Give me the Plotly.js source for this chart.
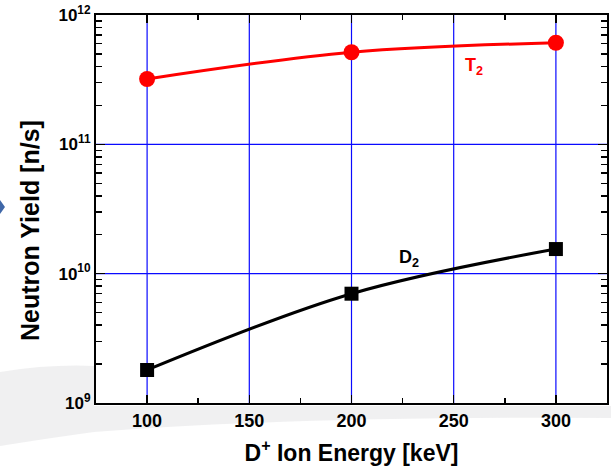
<!DOCTYPE html>
<html><head><meta charset="utf-8">
<script src="https://cdn.plot.ly/plotly-3.0.1.min.js"></script>
<style>html,body{margin:0;padding:0;background:#fff}#c{width:611px;height:472px}</style>
</head><body><div id="c"></div>
<script>
const energies = [100, 200, 300];
const t2Yield = [3.2e11, 5.15e11, 6.1e11];
const d2Yield = [1.8e9, 7.0e9, 1.55e10];
const xTicks = [100, 150, 200, 250, 300];
const xTickText = ['<b>100</b>', '<b>150</b>', '<b>200</b>', '<b>250</b>', '<b>300</b>'];
const yTickVals = [1e9, 1e10, 1e11, 1e12];
const yTickText = ['<b>10<sup>9</sup></b>', '<b>10<sup>10</sup></b>', '<b>10<sup>11</sup></b>', '<b>10<sup>12</sup></b>'];
const yGridVals = [1e10, 1e11];

const minorY = [];
for (let e = 9; e < 12; e++) for (let m = 2; m <= 9; m++) minorY.push(m * Math.pow(10, e));

const fam = 'Liberation Sans, Arial, sans-serif';
const W = 611, H = 472, L = 96, R = 4, T = 15, B = 69;
const pw = W - L - R, ph = H - T - B;
const px = v => ((v - L) / pw).toFixed(4);
const py = v => ((H - B - v) / ph).toFixed(4);

const traces = [
  {x: energies, y: t2Yield, mode: 'lines+markers', line: {color: '#ff0000', width: 3, shape: 'spline'},
   marker: {symbol: 'circle', size: 16, color: '#ff0000'}, cliponaxis: false, showlegend: false},
  {x: energies, y: d2Yield, mode: 'lines+markers', line: {color: '#000', width: 3, shape: 'spline'},
   marker: {symbol: 'square', size: 14, color: '#000'}, cliponaxis: false, showlegend: false}
];

const gridBlue = '#0a0aff';
const gridShapes = [];
xTicks.forEach(v => gridShapes.push({type: 'line', xref: 'x', yref: 'paper', x0: v, x1: v, y0: 0, y1: 1,
  layer: 'below', line: {color: gridBlue, width: 1.2}}));
yGridVals.forEach(v => gridShapes.push({type: 'line', xref: 'paper', yref: 'y', x0: 0, x1: 1, y0: v, y1: v,
  layer: 'below', line: {color: gridBlue, width: 1.2}}));

const band = 'rgba(238,238,240,0.9)';
const layout = {
  width: W, height: H,
  margin: {l: L, r: R, t: T, b: B},
  paper_bgcolor: '#ffffff', plot_bgcolor: '#ffffff',
  font: {family: fam, color: '#000'},
  xaxis: {
    range: [75, 325], tickmode: 'array', tickvals: xTicks, ticktext: xTickText,
    ticks: 'inside', ticklen: 8, tickwidth: 1.5, tickcolor: '#000',
    showline: true, linecolor: '#000', linewidth: 2, mirror: 'ticks',
    showgrid: false, zeroline: false,
    minor: {tickvals: [125, 175, 225, 275], ticks: 'inside', ticklen: 5, tickcolor: '#000', showgrid: false},
    tickfont: {size: 18, family: fam, color: '#000'},
    title: {text: '<b>D<sup>+</sup> Ion Energy [keV]</b>', font: {size: 23, family: fam}, standoff: 15}
  },
  yaxis: {
    type: 'log', range: [9, 12], tickmode: 'array', tickvals: yTickVals, ticktext: yTickText,
    ticks: 'inside', ticklen: 9, tickwidth: 1.5, tickcolor: '#000',
    showline: true, linecolor: '#000', linewidth: 2, mirror: 'ticks',
    showgrid: false, zeroline: false,
    minor: {tickvals: minorY, ticks: 'inside', ticklen: 6, tickcolor: '#000', showgrid: false},
    tickfont: {size: 17, family: fam, color: '#000'}
  },
  annotations: [
    {x: px(30), y: py(230), xref: 'paper', yref: 'paper', xanchor: 'center', yanchor: 'middle',
     text: '<b>Neutron Yield [n/s]</b>', textangle: -90,
     showarrow: false, font: {size: 25, family: fam, color: '#000'}},
    {x: 260, y: Math.log10(4.0e11), xref: 'x', yref: 'y', text: '<b>T<sub>2</sub></b>', showarrow: false,
     font: {size: 18, color: '#ff0000', family: fam}},
    {x: 228, y: Math.log10(1.32e10), xref: 'x', yref: 'y', text: '<b>D<sub>2</sub></b>', showarrow: false,
     font: {size: 18, color: '#000', family: fam}}
  ],
  shapes: [
    {type: 'path', xref: 'paper', yref: 'paper', layer: 'below',
     path: `M ${px(0)} ${py(372)} Q ${px(50)} ${py(364)} ${px(94)} ${py(366)} L ${px(94)} ${py(432)} Q ${px(50)} ${py(438)} ${px(0)} ${py(446)} Z`,
     fillcolor: band, line: {width: 0}},
    {type: 'path', xref: 'paper', yref: 'paper', layer: 'below',
     path: `M ${px(94)} ${py(406)} L ${px(611)} ${py(406)} L ${px(611)} ${py(418)} Q ${px(300)} ${py(416)} ${px(94)} ${py(432)} Z`,
     fillcolor: band, line: {width: 0}},
    {type: 'path', xref: 'paper', yref: 'paper', layer: 'above',
     path: `M ${px(0)} ${py(200)} L ${px(5)} ${py(207)} L ${px(0)} ${py(214)} Z`,
     fillcolor: '#3f67a8', line: {width: 0}}
  ].concat(gridShapes)
};

Plotly.newPlot('c', traces, layout, {displayModeBar: false, staticPlot: true});
</script></body></html>
